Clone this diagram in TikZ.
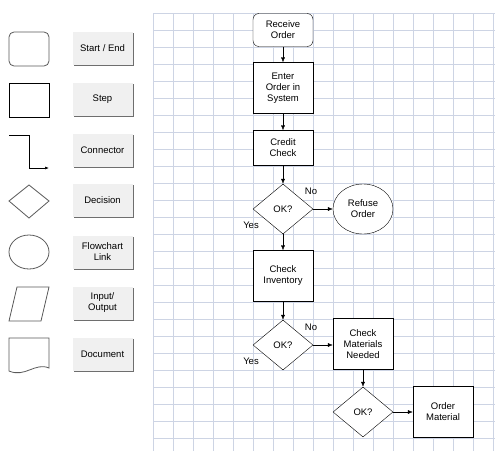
\documentclass[tikz,border=0pt]{standalone}
\usepackage{fontspec}
\setmainfont{Liberation Sans}
\usetikzlibrary{shapes.geometric,arrows.meta}

\definecolor{gridblue}{RGB}{205,212,228}
\definecolor{btngray}{RGB}{240,240,240}
\definecolor{btnshade}{RGB}{110,110,110}

\tikzset{
  every node/.style={font=\fontsize{9.5}{11}\selectfont, align=center},
  task/.style={draw, fill=white, minimum width=60pt, minimum height=51pt, inner sep=1pt},
  decide/.style={draw, fill=white, diamond, aspect=1.2, minimum width=60pt, minimum height=50pt, inner sep=0pt},
  flow/.style={-{Latex[length=5pt,width=4pt]}},
  button/.style={fill=btngray, minimum width=60pt, minimum height=33pt, inner sep=0pt},
  palette/.style={draw=black!65, line width=0.8pt}
}

\begin{document}
\begin{tikzpicture}[x=1pt,y=-1pt]
\useasboundingbox (0,0) rectangle (495,455);
% grid paper
\foreach \gx in {153,173,...,493} \draw[gridblue] (\gx,13) -- (\gx,451);
\foreach \gy in {13,30,...,451} \draw[gridblue] (153,\gy) -- (495,\gy);

% palette shapes
\draw[palette, rounded corners=5pt] (9,32) rectangle (49,66);
\draw[black, line width=0.6pt] (9,83) rectangle (49,117);
\draw[black, line width=0.6pt, -{Latex[length=4pt,width=3pt]}] (9,135) -- (29,135) -- (29,168) -- (49,168);
\draw[palette] (29,185) -- (49,201) -- (29,218) -- (9,201) -- cycle;
\draw[palette] (29,252) ellipse (20 and 17);
\draw[palette] (17,287) -- (49,287) -- (41,321) -- (9,321) -- cycle;
\draw[palette] (9,371) -- (9,338) -- (49,338) -- (49,368) .. controls (35,362) and (25,378) .. cycle;

% palette buttons
\foreach \by/\txt in {48/{Start / End}, 99/Step, 150/Connector, 200/Decision,
    252/{Flowchart\\Link}, 303/{Input/\\Output}, 354/Document} {
  \fill[btnshade] (74,\by-15.5) rectangle (134,\by+17.5);
  \node[button] (b\by) at (102.5,\by) {\txt};
}

% flowchart
\node[task, rounded corners=6pt, minimum height=33pt] (receive) at (283,30) {Receive\\Order};
\node[task] (enter) at (283,88) {Enter\\Order in\\System};
\node[task, minimum height=35pt] (credit) at (283,148) {Credit\\Check};
\node[decide] (ok1) at (283,209) {OK?};
\node[draw, fill=white, ellipse, minimum width=60pt, minimum height=50pt] (refuse) at (363,209) {Refuse\\Order};
\node[task] (inventory) at (283,276) {Check\\Inventory};
\node[decide] (ok2) at (283,345) {OK?};
\node[task] (materials) at (363,344) {Check\\Materials\\Needed};
\node[decide] (ok3) at (363,412) {OK?};
\node[task] (order) at (443,412) {Order\\Material};

\draw[flow] (receive) -- (enter);
\draw[flow] (enter) -- (credit);
\draw[flow] (credit) -- (ok1);
\draw[flow] (ok1) -- (refuse);
\draw[flow] (ok1) -- (inventory);
\draw[flow] (inventory) -- (ok2);
\draw[flow] (ok2.east) -- (materials.west |- ok2.east);
\draw[flow] (materials) -- (ok3);
\draw[flow] (ok3) -- (order);

\node (no1) at (311,191) {No};
\node (yes1) at (251,225) {Yes};
\node (no2) at (311,327) {No};
\node (yes2) at (251,361) {Yes};
\end{tikzpicture}
\end{document}
